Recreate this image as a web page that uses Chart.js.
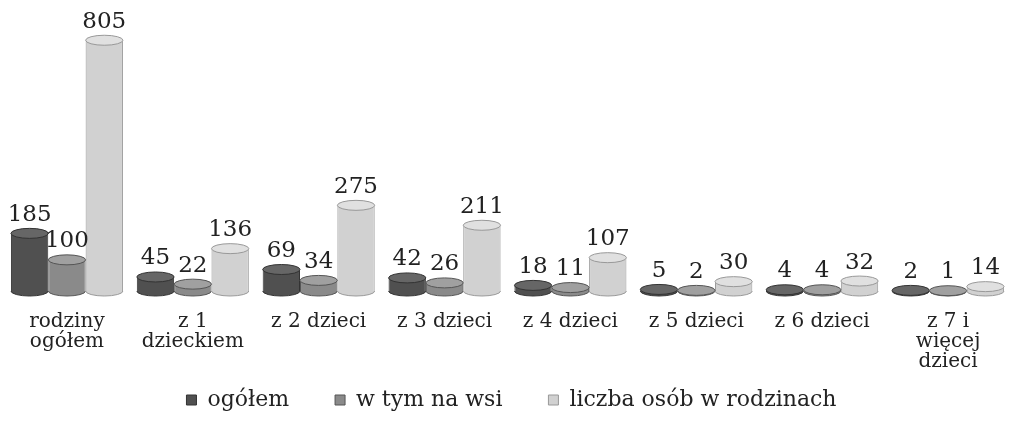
<!DOCTYPE html>
<html>
<head>
<meta charset="utf-8">
<script src="https://cdn.jsdelivr.net/npm/chart.js@4"></script>
<style>
  html, body { margin: 0; padding: 0; background: #fff; }
  #wrap { width: 1011px; height: 421px; position: relative; }
</style>
</head>
<body>
<div id="wrap"><canvas id="familyChart"></canvas></div>
<script>
// Data
const categories = [
  ['rodziny', 'ogółem'],
  ['z 1', 'dzieckiem'],
  'z 2 dzieci',
  'z 3 dzieci',
  'z 4 dzieci',
  'z 5 dzieci',
  'z 6 dzieci',
  ['z 7 i', 'więcej', 'dzieci']
];
const seriesNames = ['ogółem', 'w tym na wsi', 'liczba osób w rodzinach'];
const ogolem = [185, 45, 69, 42, 18, 5, 4, 2];
const naWsi = [100, 22, 34, 26, 11, 2, 4, 1];
const liczbaOsob = [805, 136, 275, 211, 107, 30, 32, 14];

const fontFamily = '"DejaVu Serif", "Liberation Serif", serif';

// draws the cylinder rims / caps and the value labels
const cylinderPlugin = {
  id: 'cylinders',
  afterLayout(chart) {
    // let the multi-line category labels run below the (shrunk) axis box
    chart.scales.x.bottom = chart.height;
  },
  afterDatasetsDraw(chart) {
    const ctx = chart.ctx;
    const ry = 5;
    ctx.save();
    chart.data.datasets.forEach((ds, i) => {
      const meta = chart.getDatasetMeta(i);
      meta.data.forEach((bar) => {
        const rx = bar.width / 2;
        ctx.lineWidth = 1;
        ctx.strokeStyle = ds.borderColor;
        ctx.fillStyle = ds.backgroundColor;
        ctx.beginPath();
        ctx.ellipse(bar.x, bar.base, rx, ry, 0, 0, Math.PI);
        ctx.fill();
        ctx.stroke();
        ctx.beginPath();
        ctx.ellipse(bar.x, bar.y, rx, ry, 0, 0, Math.PI * 2);
        ctx.fillStyle = ds.capColor;
        ctx.fill();
        ctx.stroke();
      });
    });
    ctx.font = '23px ' + fontFamily;
    ctx.fillStyle = '#222';
    ctx.textAlign = 'center';
    ctx.textBaseline = 'bottom';
    chart.data.datasets.forEach((ds, i) => {
      const meta = chart.getDatasetMeta(i);
      meta.data.forEach((bar, j) => {
        ctx.fillText(ds.data[j], bar.x, bar.y - ry - 2);
      });
    });
    ctx.restore();
  }
};

const ctx = document.getElementById('familyChart').getContext('2d');
new Chart(ctx, {
  type: 'bar',
  data: {
    labels: categories,
    datasets: [
      { label: seriesNames[0], data: ogolem, backgroundColor: '#505050', borderColor: '#333', capColor: '#666', borderWidth: 1 },
      { label: seriesNames[1], data: naWsi, backgroundColor: '#8a8a8a', borderColor: '#555', capColor: '#a0a0a0', borderWidth: 1 },
      { label: seriesNames[2], data: liczbaOsob, backgroundColor: '#d1d1d1', borderColor: '#999', capColor: '#e0e0e0', borderWidth: 1 }
    ]
  },
  options: {
    responsive: true,
    maintainAspectRatio: false,
    animation: false,
    layout: { padding: { top: 20, left: 4, right: -8, bottom: 0 } },
    datasets: {
      bar: { categoryPercentage: 0.89, barPercentage: 1.0 }
    },
    scales: {
      x: {
        grid: { display: false, drawTicks: false },
        border: { display: false },
        ticks: {
          color: '#222',
          padding: 21,
          maxRotation: 0,
          autoSkip: false,
          font: { family: fontFamily, size: 20, lineHeight: 1.0 }
        },
        afterFit(scale) { scale.height = 52; }
      },
      y: {
        display: false,
        min: 0,
        max: 870
      }
    },
    plugins: {
      legend: {
        position: 'bottom',
        labels: {
          boxWidth: 10,
          boxHeight: 10,
          padding: 46,
          color: '#222',
          font: { family: fontFamily, size: 22 }
        }
      },
      tooltip: { enabled: false }
    }
  },
  plugins: [cylinderPlugin]
});
</script>
</body>
</html>
